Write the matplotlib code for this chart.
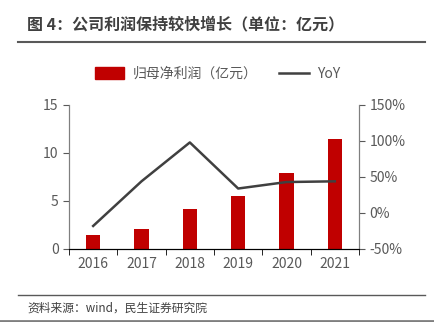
import numpy as np
import matplotlib
matplotlib.use("Agg")
import matplotlib.pyplot as plt
from matplotlib.lines import Line2D
from matplotlib.ticker import FuncFormatter, MultipleLocator, FixedLocator

plt.rcParams['font.family'] = ['Noto Sans CJK SC', 'DejaVu Sans']

# data
years = ["2016", "2017", "2018", "2019", "2020", "2021"]
profit = [1.43, 2.08, 4.13, 5.55, 7.95, 11.46]   # 归母净利润（亿元）
yoy = [-18, 44, 98, 34, 43, 44]                    # %

title = "图 4：公司利润保持较快增长（单位：亿元）"
source = "资料来源：wind，民生证券研究院"

BAR_RED = "#C00000"
LINE_GREY = "#404040"
TXT = "#595959"

fig = plt.figure(figsize=(4.35, 3.22), dpi=100)
ax = fig.add_axes([69/435, 1 - 249/322, (359 - 69)/435, (249 - 105)/322])
ax2 = ax.twinx()

x = np.arange(len(years))
ax.bar(x, profit, width=0.3, color=BAR_RED, zorder=2, label="归母净利润（亿元）")
ax2.plot(x, yoy, color=LINE_GREY, lw=1.8, zorder=3, label="YoY")

ax.set_xlim(-0.5, len(years) - 0.5)
ax.set_ylim(0, 15)
ax.yaxis.set_major_locator(MultipleLocator(5))
ax2.set_ylim(-50, 150)
ax2.yaxis.set_major_locator(MultipleLocator(50))
ax2.yaxis.set_major_formatter(FuncFormatter(lambda v, p: f"{v:.0f}%"))

ax.set_xticks(x)
ax.set_xticklabels(years)
ax.xaxis.set_minor_locator(FixedLocator(np.arange(-0.5, len(years), 1.0)))
ax.tick_params(axis="x", which="major", length=0, pad=6, labelsize=10, labelcolor=TXT)
ax.tick_params(axis="x", which="minor", length=4, direction="out", color="black")
ax.tick_params(axis="y", length=4, direction="out", labelsize=10, labelcolor=TXT, color="#595959")
ax2.tick_params(axis="y", length=4, direction="out", labelsize=10, labelcolor=TXT, color="#595959")

for a in (ax, ax2):
    a.spines["top"].set_visible(False)
    a.spines["left"].set_color("#7f7f7f")
    a.spines["right"].set_color("#7f7f7f")
    a.spines["bottom"].set_color("black")

handles = [plt.Rectangle((0, 0), 1, 1, color=BAR_RED),
           Line2D([0], [0], color=LINE_GREY, lw=1.8)]
fig.legend(handles, ["归母净利润（亿元）", "YoY"], loc="center",
           bbox_to_anchor=(0.5, 1 - 74/322), ncol=2, frameon=False,
           fontsize=10, labelcolor=TXT, handlelength=2.1, handleheight=0.9,
           handletextpad=0.6, columnspacing=1.6)

# header / footer
fig.text(27/435, 1 - 24/322, title, fontsize=11.5, fontweight="bold",
         color="#404040", va="center", ha="left")
fig.add_artist(Line2D([18/435, 425/435], [1 - 42/322] * 2, color="#595959", lw=1.5))
fig.add_artist(Line2D([18/435, 425/435], [1 - 295/322] * 2, color="#595959", lw=1.0))
fig.text(27/435, 1 - 308/322, source, fontsize=8.5, color="#404040", va="center", ha="left")
fig.add_artist(Line2D([0, 1], [1 - 321/322] * 2, color="#7f7f7f", lw=2))

fig.savefig("out.png", dpi=100)
